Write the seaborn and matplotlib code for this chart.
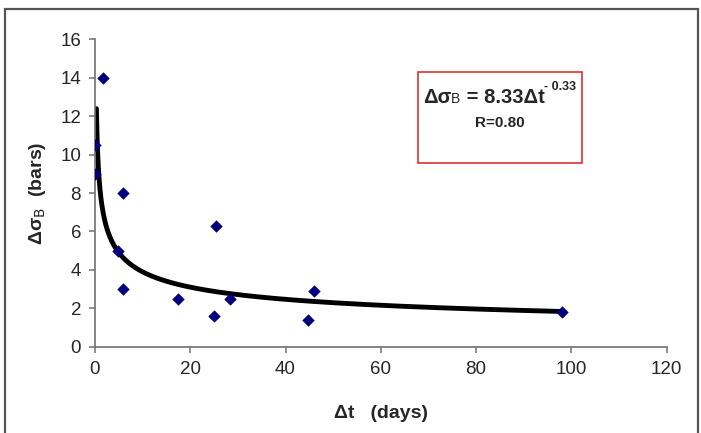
import numpy as np
import pandas as pd
import matplotlib
matplotlib.use("Agg")
import matplotlib.pyplot as plt
import seaborn as sns
from matplotlib.patches import Rectangle

# measured points: delta t (days) vs delta sigma_B (bars)
dt_days = [0.0, 0.1, 1.7, 5.9, 4.8, 5.9, 17.4, 25.3, 24.9, 28.4, 44.8, 46.0, 98.0]
dsigma_bars = [9.0, 10.5, 14.0, 8.0, 5.0, 3.0, 2.5, 6.3, 1.6, 2.5, 1.4, 2.9, 1.8]

# power-law trendline given on the chart
fit_a = 8.33
fit_b = -0.33
fit_t_start = 0.3
fit_t_end = 98.0

x_ticks = [0, 20, 40, 60, 80, 100, 120]
y_ticks = [0, 2, 4, 6, 8, 10, 12, 14, 16]

sns.set_style("ticks")
plt.rcParams["font.family"] = ["Liberation Sans", "DejaVu Sans"]

points = pd.DataFrame({"dt": dt_days, "ds": dsigma_bars})
t_fit = np.geomspace(fit_t_start, fit_t_end, 300)
curve = pd.DataFrame({"dt": t_fit, "ds": fit_a * t_fit ** fit_b})

fig = plt.figure(figsize=(7.01, 4.33), dpi=100)
ax = fig.add_axes([0.1355, 0.1993, 0.8155, 0.7097])

sns.lineplot(data=curve, x="dt", y="ds", ax=ax, color="black", linewidth=3.5, zorder=2)
sns.scatterplot(data=points, x="dt", y="ds", ax=ax, marker="D", color="#00007f",
                s=40, linewidth=0, zorder=3)

ax.set_xlim(0, 120)
ax.set_ylim(0, 16)
ax.set_xticks(x_ticks)
ax.set_yticks(y_ticks)
ax.tick_params(labelsize=13.5, length=4, width=1.1, color="#707070", pad=6)
for side in ["left", "bottom"]:
    ax.spines[side].set_color("#707070")
    ax.spines[side].set_linewidth(1.2)
sns.despine(ax=ax)

ax.set_xlabel("Δt   (days)", fontsize=14, fontweight="bold", labelpad=20)
ax.set_ylabel("Δσ$_{\\rm B}$  (bars)", fontsize=14, fontweight="bold", labelpad=9)

# equation box
box = Rectangle((418 / 701, 1 - 163 / 433), 164 / 701, 91 / 433, transform=fig.transFigure,
                fill=False, edgecolor="#e03030", linewidth=1.2)
fig.patches.append(box)
t1 = fig.text(423 / 701, 1 - 103 / 433, "Δσ", fontsize=14.5, fontweight="bold", va="baseline")
t2 = ax.annotate("B", xy=(1, 0.05), xycoords=t1, va="bottom", fontsize=10)
t3 = ax.annotate(" = 8.33Δt", xy=(1, -0.05), xycoords=t2, va="bottom", fontsize=14.5, fontweight="bold")
ax.annotate("- 0.33", xy=(1, 0.7), xycoords=t3, va="bottom", fontsize=9, fontweight="bold")
fig.text(500 / 701, 1 - 127 / 433, "R=0.80", fontsize=11, fontweight="bold", ha="center")

# outer chart frame
frame = Rectangle((5 / 701, -0.05), 693 / 701, 1.05 - 9 / 433, transform=fig.transFigure,
                  fill=False, edgecolor="#555555", linewidth=1.6)
fig.patches.append(frame)

fig.savefig("out.png", dpi=100)
